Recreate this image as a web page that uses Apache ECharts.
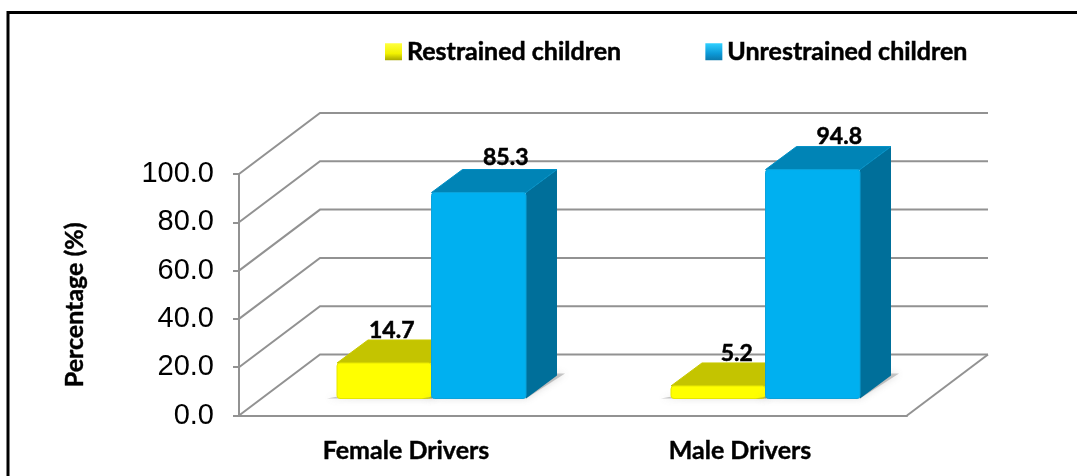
<!DOCTYPE html>
<html>
<head>
<meta charset="utf-8">
<style>
  html, body { margin: 0; padding: 0; background: #fff; }
  #main { width: 1077px; height: 476px; }
</style>
<script src="https://cdn.jsdelivr.net/npm/echarts@6/dist/echarts.min.js"></script>
</head>
<body>
<div id="main"></div>
<script>
const categories = ['Female Drivers', 'Male Drivers'];
const restrained = [14.7, 5.2];
const unrestrained = [85.3, 94.8];
const wallTicks = [0, 20, 40, 60, 80, 100];

const labelFont = 'Lato';
const gridLine = '#929292';

// how far the floor / the bar tops recede into the picture
const wallDepth = [81, -61];
const barDepth = [31, -23];
const barWidth = 94.5;
const barShiftX = 25.5;
const barShiftY = -17;
// value labels don't sit in one fixed place on the bar tops
const labelNudge = { restrained: [[7.5, -9], [18.5, -9]], unrestrained: [[27, -12], [26.5, -10]] };

function renderWall(params, api) {
  const cs = params.coordSys;
  const y = api.coord([0, api.value(0)])[1];
  const left = cs.x, right = cs.x + cs.width;
  const style = { stroke: gridLine, lineWidth: 2, fill: null };
  const children = [{
    type: 'polyline',
    shape: { points: [[left, y], [left + wallDepth[0], y + wallDepth[1]], [right + wallDepth[0], y + wallDepth[1]]] },
    style
  }];
  if (api.value(0) === 0) {
    children.push({
      type: 'line',
      shape: { x1: right, y1: y, x2: right + wallDepth[0], y2: y + wallDepth[1] },
      style
    });
  }
  return { type: 'group', children };
}

function makeBarRender(side, colors, nudge) {
  return function (params, api) {
    const idx = api.value(0);
    const center = api.coord([idx, 0])[0] + barShiftX;
    const zero = api.coord([idx, 0])[1];
    const h = zero - api.coord([idx, api.value(1)])[1];
    const x0 = side < 0 ? center - barWidth : center;
    const x1 = x0 + barWidth;
    const bottom = zero + barShiftY;
    const top = bottom - h;
    const dx = barDepth[0], dy = barDepth[1];
    const n = nudge[idx];
    return {
      type: 'group',
      children: [
        // soft shadow on the floor
        {
          type: 'polygon',
          shape: { points: [[x0 - 10, bottom], [x1, bottom], [x1 + dx + 8, bottom + dy - 2], [x1 + dx, bottom + dy - 2]] },
          style: { fill: 'rgba(120,120,120,0.4)', shadowBlur: 7, shadowColor: 'rgba(110,110,110,0.6)' }
        },
        {
          type: 'polygon',
          shape: { points: [[x1, top], [x1 + dx, top + dy], [x1 + dx, bottom + dy], [x1, bottom]] },
          style: { fill: colors.side }
        },
        {
          type: 'polygon',
          shape: { points: [[x0, top], [x1, top], [x1 + dx, top + dy], [x0 + dx, top + dy]] },
          style: { fill: colors.top, stroke: colors.rim, lineWidth: 1, lineJoin: 'round' }
        },
        {
          type: 'rect',
          shape: { x: x0, y: top, width: barWidth, height: h, r: 3 },
          style: { fill: colors.front, stroke: colors.edge, lineWidth: 1 }
        },
        {
          type: 'text',
          style: {
            text: api.value(1).toFixed(1),
            x: (x0 + x1) / 2 + n[0],
            y: top + dy + n[1],
            align: 'center',
            verticalAlign: 'middle',
            font: 'bold 23px ' + labelFont,
            fill: '#000',
            stroke: '#000',
            lineWidth: 0.5
          }
        }
      ]
    };
  };
}

function bevel(light, mid, dark) {
  return new echarts.graphic.LinearGradient(0, 0, 0, 1, [
    { offset: 0, color: light },
    { offset: 0.6, color: mid },
    { offset: 1, color: dark }
  ]);
}

const chart = echarts.init(document.getElementById('main'), null, { renderer: 'canvas' });

chart.setOption({
  animation: false,
  backgroundColor: '#fff',
  grid: { left: 239, right: 170, top: 174, bottom: 60.5, containLabel: false },
  legend: {
    top: 34,
    left: 380,
    itemWidth: 17,
    itemHeight: 17,
    itemGap: 84,
    icon: 'rect',
    data: ['Restrained children', 'Unrestrained children'],
    textStyle: { fontFamily: labelFont, fontWeight: 'bold', fontSize: 25, color: '#000', textBorderColor: '#000', textBorderWidth: 0.5 }
  },
  xAxis: {
    type: 'category',
    data: categories,
    axisLine: { lineStyle: { color: gridLine, width: 2 } },
    axisTick: { length: 8, lineStyle: { color: gridLine, width: 2 } },
    axisLabel: { fontFamily: labelFont, fontWeight: 'bold', fontSize: 25, color: '#000', margin: 23, textBorderColor: '#000', textBorderWidth: 0.4 }
  },
  yAxis: {
    type: 'value',
    min: 0,
    max: 100,
    interval: 20,
    name: 'Percentage (%)',
    nameLocation: 'middle',
    nameGap: 152,
    nameRotate: 90,
    nameTextStyle: { fontFamily: labelFont, fontWeight: 'bold', fontSize: 25, color: '#000', padding: [0, 20, 0, 0], textBorderColor: '#000', textBorderWidth: 0.4 },
    axisLine: { show: true, lineStyle: { color: gridLine, width: 2 } },
    axisTick: { show: true, length: 6, lineStyle: { color: gridLine, width: 2 } },
    splitLine: { show: false },
    axisLabel: {
      fontFamily: 'Liberation Sans',
      fontSize: 29,
      color: '#000',
      margin: 25,
      padding: [9, 0, 0, 0],
      formatter: v => v.toFixed(1)
    }
  },
  graphic: [{
    type: 'polyline',
    shape: { points: [[8, 476], [8, 12.5], [1077, 12.5]] },
    style: { stroke: '#000', lineWidth: 3, fill: null },
    z: 100
  }],
  series: [
    {
      type: 'custom',
      name: 'wall',
      silent: true,
      clip: false,
      renderItem: renderWall,
      encode: { y: 0 },
      data: wallTicks.map(v => [v]),
      z: 1
    },
    {
      type: 'custom',
      name: 'Restrained children',
      clip: false,
      renderItem: makeBarRender(-1, { front: '#FFFF00', top: '#C4C400', side: '#8F8F00', edge: '#E6E600', rim: '#C9C900' }, labelNudge.restrained),
      encode: { x: 0, y: 1 },
      itemStyle: { color: bevel('#FFFF40', '#F2F200', '#A8A800') },
      data: restrained.map((v, i) => [i, v]),
      z: 2
    },
    {
      type: 'custom',
      name: 'Unrestrained children',
      clip: false,
      renderItem: makeBarRender(1, { front: '#00B0F0', top: '#0084B6', side: '#006F9A', edge: '#0AA3DB', rim: '#0090C6' }, labelNudge.unrestrained),
      encode: { x: 0, y: 1 },
      itemStyle: { color: bevel('#30D0FF', '#0C9AD8', '#0B79AC') },
      data: unrestrained.map((v, i) => [i, v]),
      z: 3
    }
  ]
});
</script>
</body>
</html>
